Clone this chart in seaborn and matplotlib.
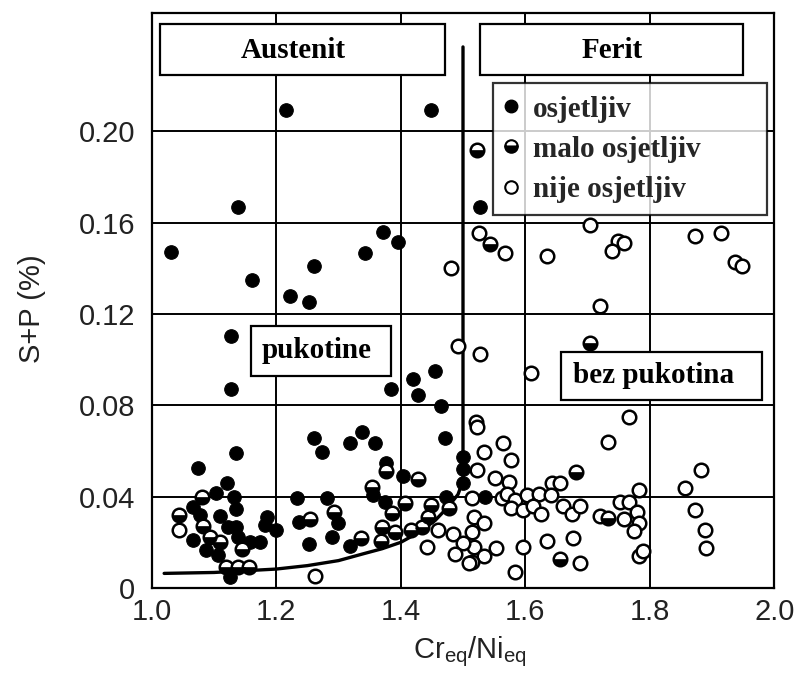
import matplotlib
matplotlib.use("Agg")
import numpy as np
import pandas as pd
import seaborn as sns
import matplotlib.pyplot as plt
from matplotlib.markers import MarkerStyle
from matplotlib.lines import Line2D
from matplotlib.patches import Rectangle

# ---------------- data ----------------
sens_x = [1.216, 1.449, 1.527, 1.138, 1.031, 1.161, 1.371, 1.396, 1.343, 1.261,
          1.222, 1.252, 1.128, 1.128, 1.420, 1.455, 1.384, 1.428, 1.465, 1.471,
          1.500, 1.500, 1.500, 1.472, 1.535, 1.260, 1.274, 1.319, 1.338, 1.359,
          1.135, 1.074, 1.121, 1.104, 1.132, 1.135, 1.067, 1.078, 1.109, 1.123,
          1.136, 1.067, 1.087, 1.107, 1.139, 1.158, 1.174, 1.185, 1.182, 1.200,
          1.125, 1.233, 1.236, 1.377, 1.403, 1.355, 1.374, 1.300, 1.252, 1.290,
          1.318, 1.281]
sens_y = [0.2095, 0.2095, 0.1668, 0.1668, 0.1473, 0.1349, 0.1561, 0.1517, 0.1466, 0.1412,
          0.1279, 0.1252, 0.1104, 0.0871, 0.0916, 0.0951, 0.0872, 0.0846, 0.0797, 0.0659,
          0.0573, 0.0520, 0.0459, 0.0397, 0.0397, 0.0659, 0.0597, 0.0634, 0.0685, 0.0634,
          0.0590, 0.0527, 0.0459, 0.0415, 0.0400, 0.0345, 0.0354, 0.0320, 0.0315, 0.0269,
          0.0269, 0.0210, 0.0166, 0.0145, 0.0225, 0.0203, 0.0203, 0.0310, 0.0276, 0.0254,
          0.0050, 0.0393, 0.0290, 0.0546, 0.0492, 0.0407, 0.0378, 0.0283, 0.0193, 0.0222,
          0.0184, 0.0393]

half_x = [1.522, 1.543, 1.704, 1.681, 1.733, 1.655, 1.080, 1.044, 1.082, 1.094,
          1.109, 1.145, 1.119, 1.138, 1.157, 1.377, 1.427, 1.354, 1.386, 1.407,
          1.449, 1.444, 1.434, 1.416, 1.391, 1.370, 1.368, 1.336, 1.254, 1.293,
          1.478]
half_y = [0.1920, 0.1507, 0.1075, 0.0510, 0.0305, 0.0126, 0.0400, 0.0320, 0.0272, 0.0225,
          0.0203, 0.0169, 0.0093, 0.0093, 0.0093, 0.0514, 0.0476, 0.0444, 0.0327, 0.0374,
          0.0364, 0.0312, 0.0269, 0.0254, 0.0247, 0.0266, 0.0207, 0.0218, 0.0301, 0.0334,
          0.0349]

open_x = [1.481, 1.492, 1.527, 1.525, 1.567, 1.704, 1.635, 1.749, 1.759, 1.740,
          1.873, 1.914, 1.937, 1.948, 1.720, 1.610,
          1.521, 1.523, 1.565, 1.533, 1.577, 1.523, 1.551, 1.574, 1.643, 1.655,
          1.766, 1.733, 1.782, 1.882, 1.857, 1.873, 1.889, 1.891,
          1.514, 1.562, 1.571, 1.584, 1.603, 1.622, 1.642, 1.577, 1.597, 1.613,
          1.626, 1.661, 1.675, 1.688, 1.720, 1.752, 1.766, 1.779, 1.759, 1.782,
          1.774,
          1.517, 1.534, 1.514, 1.517, 1.553, 1.534, 1.514, 1.597, 1.635, 1.677,
          1.688, 1.584, 1.782, 1.789,
          1.044, 1.263, 1.460, 1.442, 1.484, 1.500, 1.487, 1.510]
open_y = [0.1401, 0.1060, 0.1025, 0.1555, 0.1466, 0.1590, 0.1455, 0.1522, 0.1510, 0.1474,
          0.1544, 0.1554, 0.1430, 0.1412, 0.1235, 0.0941,
          0.0729, 0.0704, 0.0634, 0.0597, 0.0561, 0.0517, 0.0480, 0.0466, 0.0459, 0.0459,
          0.0748, 0.0641, 0.0429, 0.0517, 0.0437, 0.0342, 0.0254, 0.0174,
          0.0393, 0.0396, 0.0413, 0.0386, 0.0409, 0.0410, 0.0407, 0.0349, 0.0342, 0.0359,
          0.0324, 0.0359, 0.0324, 0.0359, 0.0315, 0.0378, 0.0378, 0.0334, 0.0301, 0.0286,
          0.0251,
          0.0312, 0.0286, 0.0247, 0.0181, 0.0177, 0.0140, 0.0115, 0.0181, 0.0207, 0.0220,
          0.0111, 0.0069, 0.0140, 0.0164,
          0.0254, 0.0053, 0.0254, 0.0178, 0.0237, 0.0196, 0.0149, 0.0111]

boundary_x = [1.02, 1.10, 1.20, 1.25, 1.30, 1.34, 1.37, 1.40, 1.43, 1.455, 1.476,
              1.492, 1.50, 1.50]
boundary_y = [0.0064, 0.0068, 0.0083, 0.0098, 0.0120, 0.0150, 0.0172, 0.0200, 0.0245,
              0.0295, 0.0355, 0.0410, 0.0470, 0.2370]

x_ticks = [1.0, 1.2, 1.4, 1.6, 1.8, 2.0]
x_tick_labels = ["1.0", "1.2", "1.4", "1.6", "1.8", "2.0"]
y_ticks = [0, 0.04, 0.08, 0.12, 0.16, 0.20]
y_tick_labels = ["0", "0.04", "0.08", "0.12", "0.16", "0.20"]

legend_labels = ["osjetljiv", "malo osjetljiv", "nije osjetljiv"]

# ---------------- style ----------------
sns.set_theme(style="white")
plt.rcParams["font.family"] = ["Liberation Sans", "DejaVu Sans"]
plt.rcParams["mathtext.fontset"] = "custom"
plt.rcParams["mathtext.rm"] = "Liberation Sans"
plt.rcParams["mathtext.it"] = "Liberation Sans:italic"
plt.rcParams["mathtext.bf"] = "Liberation Sans:bold"

fig = plt.figure(figsize=(8.02, 6.84), dpi=100)
ax = fig.add_axes([0.18915, 0.14035, 0.77631, 0.8411])

serif_bold = {"family": "Liberation Serif", "weight": "bold", "size": 21}

# boundary curve
sns.lineplot(x=boundary_x, y=boundary_y, sort=False, estimator=None, ax=ax,
             color="black", lw=2.4, zorder=2.5)

ms = 95
sns.scatterplot(x=sens_x, y=sens_y, ax=ax, marker="o", s=ms, color="black",
                edgecolor="black", linewidth=0.8, zorder=3)
sns.scatterplot(x=open_x, y=open_y, ax=ax, marker="o", s=ms, color="black",
                facecolor="white", edgecolor="black", linewidth=1.8, zorder=3)
sns.scatterplot(x=half_x, y=half_y, ax=ax, marker="o", s=ms, color="black",
                facecolor="white", edgecolor="black", linewidth=1.8, zorder=3.1)
sns.scatterplot(x=half_x, y=half_y, ax=ax, marker=MarkerStyle("o", fillstyle="bottom"),
                s=ms, color="black", edgecolor="black", linewidth=0.5, zorder=3.2)

ax.set_xlim(1.0, 2.0)
ax.set_ylim(0, 0.252)
ax.set_xticks(x_ticks)
ax.set_xticklabels(x_tick_labels)
ax.set_yticks(y_ticks)
ax.set_yticklabels(y_tick_labels)
ax.tick_params(axis="both", length=0, labelsize=21, colors="#222222")
ax.tick_params(axis="y", pad=12)
ax.tick_params(axis="x", pad=7)
ax.grid(True, color="black", lw=1.4)
ax.set_axisbelow(True)
for sp in ax.spines.values():
    sp.set_color("black")
    sp.set_linewidth(1.6)

ax.set_ylabel("S+P (%)", fontsize=21, color="#222222")
ax.set_xlabel(r"Cr$_{\mathrm{eq}}$/Ni$_{\mathrm{eq}}$", fontsize=21, color="#222222")
ax.yaxis.set_label_coords(-0.17, 0.485)
ax.xaxis.set_label_coords(0.511, -0.08)

# region boxes
def box(x0, y0, x1, y1, text, tx, ty):
    ax.add_patch(Rectangle((x0, y0), x1 - x0, y1 - y0, transform=ax.transAxes,
                           facecolor="white", edgecolor="black", lw=1.6, zorder=4,
                           clip_on=False))
    ax.text(tx, ty, text, transform=ax.transAxes, ha="center", va="center",
            fontdict=serif_bold, color="black", zorder=5)

box(0.0133, 0.891, 0.471, 0.980, "Austenit", 0.228, 0.935)
box(0.527, 0.891, 0.950, 0.980, "Ferit", 0.739, 0.935)
box(0.159, 0.369, 0.384, 0.456, "pukotine", 0.265, 0.413)
box(0.657, 0.3268, 0.981, 0.4107, "bez pukotina", 0.806, 0.369)

handles = [
    Line2D([], [], ls="", marker="o", markersize=9, markerfacecolor="black",
           markeredgecolor="black"),
    Line2D([], [], ls="", marker="o", markersize=9, fillstyle="bottom",
           markerfacecolor="black", markerfacecoloralt="white",
           markeredgecolor="black", markeredgewidth=1.5),
    Line2D([], [], ls="", marker="o", markersize=9, markerfacecolor="white",
           markeredgecolor="black", markeredgewidth=1.5),
]
leg = ax.legend(handles, legend_labels, loc="upper left",
                bbox_to_anchor=(0.5477, 0.6484, 0.4401, 0.2289), mode="expand",
                borderaxespad=0, prop=serif_bold, frameon=True, fancybox=False,
                handlelength=0.4, handletextpad=0.55, borderpad=0.42,
                labelspacing=0.45)
leg.get_frame().set_edgecolor("black")
leg.get_frame().set_linewidth(1.6)
leg.set_zorder(6)

fig.savefig("out.png", dpi=100, facecolor="white")
